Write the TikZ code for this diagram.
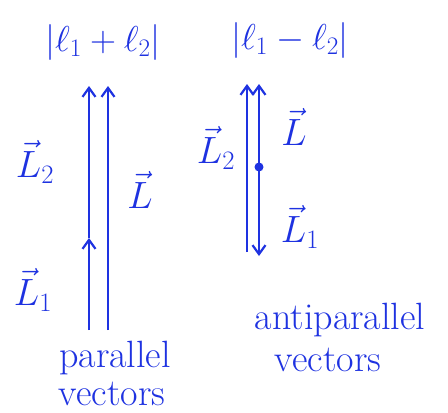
\RequirePackage{fix-cm}
\documentclass[tikz,border=0pt]{standalone}
\usetikzlibrary{arrows.meta}
\definecolor{ink}{RGB}{30,50,225}
\begin{document}
\begin{tikzpicture}[x=1pt,y=-1pt,
  vec/.style={ink,line width=2.5pt,-{Straight Barb[length=9pt,width=13pt,line width=2.2pt]}},
  lbl/.style={ink,inner sep=0pt,font=\fontsize{38}{42}\selectfont},
  ttl/.style={ink,inner sep=0pt,font=\fontsize{36}{40}\selectfont},
  big/.style={ink,inner sep=0pt,font=\fontsize{38}{42}\selectfont}]
\useasboundingbox[fill=white] (0,0) rectangle (448,413);
% left: parallel
\coordinate (pa0) at (89,330);
\coordinate (pam) at (89,238);
\coordinate (pa1) at (89,86);
\coordinate (pb0) at (108,330);
\coordinate (pb1) at (108,86);
\draw[vec] (pa0) -- (pam);
\draw[vec] (pam) -- (pa1);
\draw[vec] (pb0) -- (pb1);
\node[lbl] (l2a) at (35,162) {$\vec{L}_2$};
\node[lbl] (la) at (140,190) {$\vec{L}$};
\node[lbl] (l1a) at (33,290) {$\vec{L}_1$};
\node[ttl] (ta) at (103,42) {$|\ell_1+\ell_2|$};
\node[big] (pw) at (115,358) {parallel};
\node[big] (vw) at (112,394) {vectors};
% right: antiparallel
\coordinate (qa0) at (247,252);
\coordinate (qa1) at (247,84);
\coordinate (qc) at (259,167);
\coordinate (qb1) at (259,84);
\coordinate (qb0) at (259,256);
\draw[vec] (qa0) -- (qa1);
\draw[vec] (qc) -- (qb1);
\draw[vec] (qc) -- (qb0);
\fill[ink] (qc) circle (4.5pt);
\node[lbl] (l2b) at (216,148) {$\vec{L}_2$};
\node[lbl] (lb) at (294,127) {$\vec{L}$};
\node[lbl] (l1b) at (300,227) {$\vec{L}_1$};
\node[ttl] (tb) at (290,40) {$|\ell_1-\ell_2|$};
\node[big] (aw) at (340,320) {antiparallel};
\node[big] (vw2) at (328,360) {vectors};
\end{tikzpicture}
\end{document}
